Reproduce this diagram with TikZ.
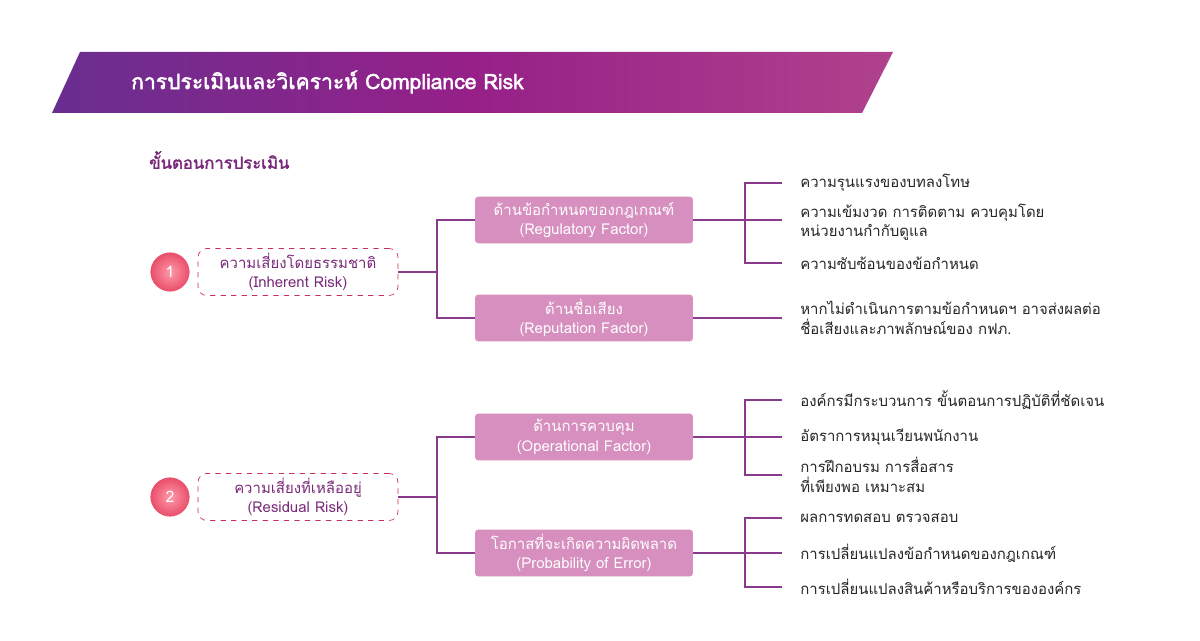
\documentclass[tikz,border=0pt]{standalone}
\usepackage{fontspec}
\setmainfont[Script=Thai]{Loma}
\newfontfamily\thaibold[Script=Thai,FakeBold=2]{Loma}
\definecolor{ink}{HTML}{7A2A7A}
\definecolor{factor}{HTML}{D68FBF}
\definecolor{riskred}{HTML}{C8305A}
\definecolor{leafline}{HTML}{8A3A8A}
\definecolor{bannerA}{HTML}{6A2E90}
\definecolor{bannerB}{HTML}{962088}
\definecolor{bannerC}{HTML}{B0428C}
\definecolor{dotin}{HTML}{FF9AAA}
\definecolor{dotout}{HTML}{E84A66}
\tikzset{
  factorbox/.style={fill=factor,rounded corners=2pt,minimum width=4.36cm,minimum height=0.94cm,
    text=white,align=center,font=\fontsize{8.5}{11}\selectfont,inner sep=0pt},
  riskbox/.style={draw=riskred,dashed,rounded corners=5pt,minimum width=4cm,minimum height=0.94cm,
    text=ink,align=center,font=\fontsize{8.5}{11}\selectfont,inner sep=0pt},
  numdot/.style={circle,minimum size=0.82cm,inner color=dotin,outer color=dotout,text=white,
    font=\fontsize{9}{11}\selectfont,inner sep=0pt,draw=white,line width=1pt},
  leaf/.style={anchor=west,align=left,text=black!85,font=\fontsize{8.5}{11}\selectfont,inner sep=0pt},
  link/.style={draw=leafline,line width=0.6pt}
}
\begin{document}
\begin{tikzpicture}[x=0.02cm,y=-0.02cm]
 \useasboundingbox[fill=white] (0,0) rectangle (1200,641);
 % banner
 \shade[left color=bannerA,right color=bannerC,middle color=bannerB]
   (80,52) -- (893,52) -- (862,113) -- (52,113) -- cycle;
 \node (title) [anchor=west,text=white,font=\thaibold\fontsize{12}{14}\selectfont] at (125,82)
   {การประเมินและวิเคราะห์ Compliance Risk};
 \node (steps) [anchor=west,text=ink,font=\thaibold\fontsize{9.5}{12}\selectfont] at (143,160)
   {ขั้นตอนการประเมิน};

 % inherent risk
 \node (N1) [numdot] at (170,272) {1};
 \node (R1) [riskbox] at (298,272) {ความเสี่ยงโดยธรรมชาติ\\(Inherent Risk)};
 \node (Reg) [factorbox] at (584,220) {ด้านข้อกำหนดของกฎเกณฑ์\\(Regulatory Factor)};
 \node (Rep) [factorbox] at (584,318) {ด้านชื่อเสียง\\(Reputation Factor)};
 \coordinate (J1) at (437,272);
 \draw[link] (R1.east) -- (J1) |- (Reg.west);
 \draw[link] (J1) |- (Rep.west);
 \node (L1) [leaf] at (800,183) {ความรุนแรงของบทลงโทษ};
 \node (L2) [leaf] at (800,222) {ความเข้มงวด การติดตาม ควบคุมโดย\\หน่วยงานกำกับดูแล};
 \node (L3) [leaf] at (800,263) {ความซับซ้อนของข้อกำหนด};
 \node (L4) [leaf] at (800,318) {หากไม่ดำเนินการตามข้อกำหนดฯ อาจส่งผลต่อ\\ชื่อเสียงและภาพลักษณ์ของ กฟภ.};
 \coordinate (K1) at (745,220);
 \draw[link] (Reg.east) -- (K1);
 \draw[link] (K1) |- ([xshift=-10pt]L1.west);
 \draw[link] (K1) -- ([xshift=-10pt]L1.west |- K1);
 \draw[link] (K1) |- ([xshift=-10pt]L3.west);
 \draw[link] (Rep.east) -- ([xshift=-10pt]L4.west);

 % residual risk
 \node (N2) [numdot] at (170,497) {2};
 \node (R2) [riskbox] at (298,497) {ความเสี่ยงที่เหลืออยู่\\(Residual Risk)};
 \node (Ope) [factorbox] at (584,437) {ด้านการควบคุม\\(Operational Factor)};
 \node (Pro) [factorbox] at (584,553) {โอกาสที่จะเกิดความผิดพลาด\\(Probability of Error)};
 \coordinate (J2) at (437,497);
 \draw[link] (R2.east) -- (J2) |- (Ope.west);
 \draw[link] (J2) |- (Pro.west);
 \node (M1) [leaf] at (800,400) {องค์กรมีกระบวนการ ขั้นตอนการปฏิบัติที่ชัดเจน};
 \node (M2) [leaf] at (800,437) {อัตราการหมุนเวียนพนักงาน};
 \node (M3) [leaf] at (800,475) {การฝึกอบรม การสื่อสาร\\ที่เพียงพอ เหมาะสม};
 \node (P1) [leaf] at (800,518) {ผลการทดสอบ ตรวจสอบ};
 \node (P2) [leaf] at (800,553) {การเปลี่ยนแปลงข้อกำหนดของกฎเกณฑ์};
 \node (P3) [leaf] at (800,587) {การเปลี่ยนแปลงสินค้าหรือบริการขององค์กร};
 \coordinate (K2) at (745,437);
 \coordinate (K3) at (745,553);
 \draw[link] (Ope.east) -- (K2);
 \draw[link] (K2) |- ([xshift=-10pt]M1.west);
 \draw[link] (K2) -- ([xshift=-10pt]M2.west);
 \draw[link] (K2) |- ([xshift=-10pt]M3.west);
 \draw[link] (Pro.east) -- (K3);
 \draw[link] (K3) |- ([xshift=-10pt]P1.west);
 \draw[link] (K3) -- ([xshift=-10pt]P2.west);
 \draw[link] (K3) |- ([xshift=-10pt]P3.west);
\end{tikzpicture}
\end{document}
